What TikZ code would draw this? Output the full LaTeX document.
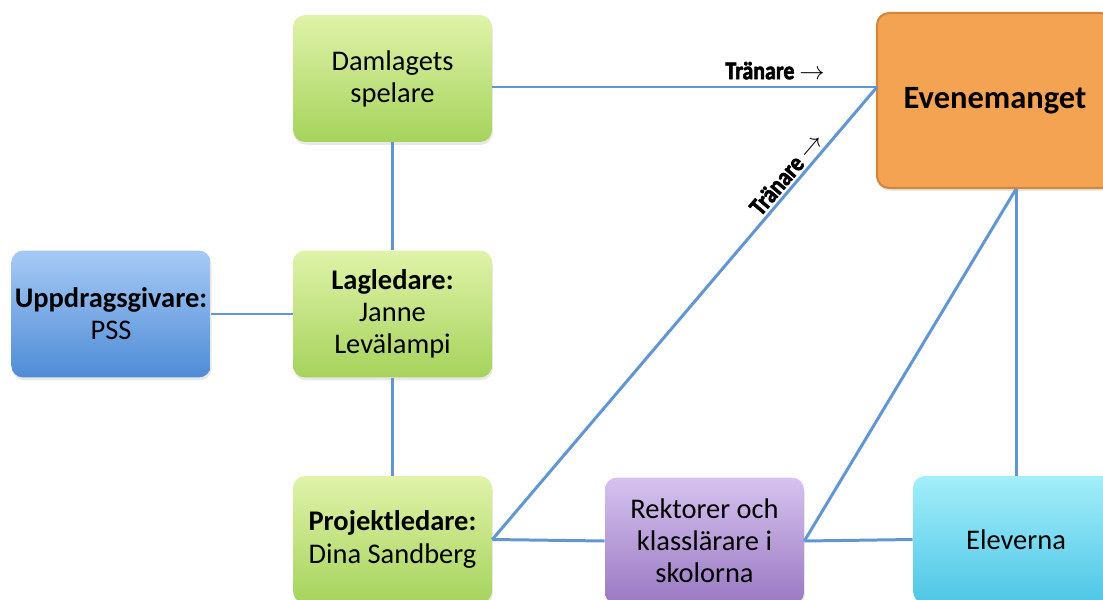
\documentclass[tikz,border=0pt]{standalone}
\usepackage{fontspec}
\setmainfont{Carlito}
\newfontfamily\trfont[FakeStretch=0.86, FakeBold=2.4]{Carlito Bold}
\usetikzlibrary{shadows}

\definecolor{greentop}{HTML}{E0F3A9}
\definecolor{greenbot}{HTML}{A6D35C}
\definecolor{bluetop}{HTML}{A6CAF6}
\definecolor{bluebot}{HTML}{4F8CD6}
\definecolor{purpletop}{HTML}{D6C3EF}
\definecolor{purplebot}{HTML}{9A78C2}
\definecolor{cyantop}{HTML}{A3EEFA}
\definecolor{cyanbot}{HTML}{4EC6E6}
\definecolor{orangefill}{HTML}{F4A352}
\definecolor{orangeline}{HTML}{D4853C}
\definecolor{linkblue}{HTML}{6096D4}

\tikzset{
  box/.style={rounded corners=0.24cm, minimum width=3.98cm, minimum height=2.54cm,
    align=center, font=\fontsize{16.2}{18.3}\selectfont, inner sep=2pt,
    drop shadow={opacity=0.18, shadow xshift=0.5pt, shadow yshift=-1.6pt}},
  greenbox/.style={box, top color=greentop, bottom color=greenbot},
  bluebox/.style={box, top color=bluetop, bottom color=bluebot},
  purplebox/.style={box, top color=purpletop, bottom color=purplebot},
  cyanbox/.style={box, top color=cyantop, bottom color=cyanbot, minimum width=4.12cm},
  link/.style={draw=linkblue, line width=1.7pt},
  trlabel/.style={font=\fontsize{14.5}{16}\trfont, inner sep=1.5pt}
}

\begin{document}
\begin{tikzpicture}[x=0.02cm, y=-0.02cm]
    \useasboundingbox (0,0) rectangle (1103,599);

 % the boxes
 \node[greenbox] (dam) at (392.5,78.5) {Damlagets\\spelare};
 \node[greenbox] (lag) at (392.5,314) {\textbf{Lagledare:}\\Janne\\Levälampi};
 \node[greenbox] (proj) at (392.5,539.5) {\textbf{Projektledare:}\\Dina Sandberg};
 \node[bluebox] (upp) at (111,314) {\textbf{Uppdragsgivare:}\\PSS};
 \node[purplebox] (rek) at (704.5,541) {Rektorer och\\klasslärare i\\skolorna};
 \node[cyanbox] (ele) at (1016,539.5) {Eleverna};
 \node[box, fill=orangefill, draw=orangeline, line width=1.2pt, minimum width=4.72cm,
       minimum height=3.5cm, font=\fontsize{18.5}{22}\bfseries\selectfont] (even) at (995,100.5) {Evenemanget};

 \coordinate (evhit) at (877,87);

 % the links
 \draw[link] (dam.south) -- (lag.north);
 \draw[link] (lag.south) -- (proj.north);
 \draw[link] (upp.east) -- (lag.west);
 \draw[link] (dam.east |- evhit) -- (evhit) node[pos=0.735, above=2pt, trlabel] {Tränare $\rightarrow$};
 \draw[link] (proj.east) -- (evhit) node[pos=0.79, sloped, above, trlabel] {Tränare $\rightarrow$};
 \draw[link] (proj.east) -- (rek.west);
 \draw[link] (rek.east) -- (ele.west);
 \draw[link] (rek.east) -- (ele.north |- even.south);
 \draw[link] (ele.north) -- (ele.north |- even.south);
    \end{tikzpicture}
\end{document}
